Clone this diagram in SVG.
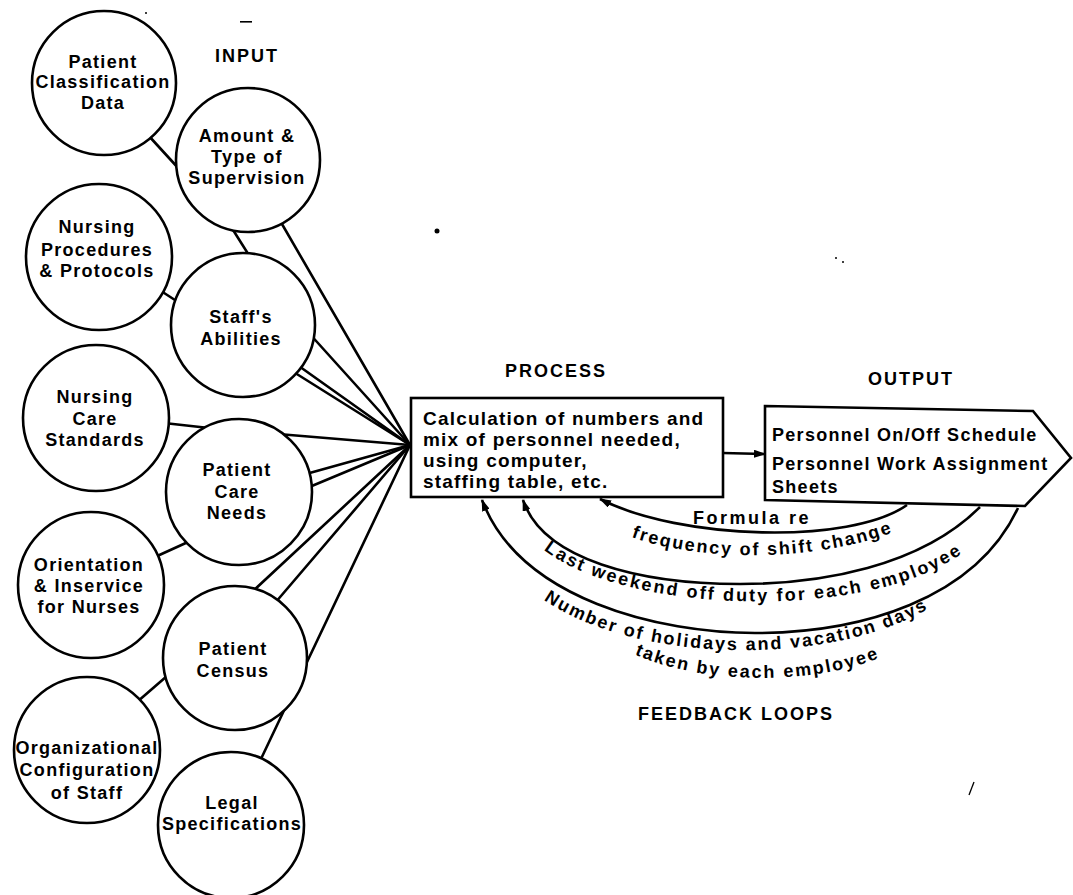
<svg xmlns="http://www.w3.org/2000/svg" width="1073" height="895" viewBox="0 0 1073 895">
<defs>
<style>
.node circle{fill:#fff;stroke:#000;stroke-width:2.6}
.node rect,.node polygon{fill:#fff;stroke:#000;stroke-width:2.6}
text{font-family:"Liberation Sans",Arial,sans-serif;font-weight:bold;fill:#000}
.ct{font-size:18px;letter-spacing:1.3px;text-anchor:middle}
.hd{font-size:18px;letter-spacing:2px}
.bx{font-size:19px;letter-spacing:1.2px}
.ot{font-size:18px;letter-spacing:1.3px}
.fb{font-size:18px;letter-spacing:2px}
.ln{stroke:#000;stroke-width:2.6;fill:none;stroke-linecap:round}
.arc{stroke:#000;stroke-width:2.6;fill:none;marker-end:url(#ah)}
.mk{fill:#000}
</style>
<marker id="ah" markerUnits="userSpaceOnUse" markerWidth="12" markerHeight="8" refX="11" refY="4" orient="auto"><path d="M0,0 L12,4 L0,8 z"/></marker>
<path id="tp1" d="M590,516 C660,569 850,569 935,511"/>
<path id="tp2" d="M520,520 C560,620 920,635 990,525"/>
<path id="tp3" d="M500,550 C560,680 900,680 970,570"/>
<path id="tp4" d="M588,621 C648,696 868,696 928,626"/>
</defs>
<rect width="1073" height="895" fill="#fff"/>

<g id="connectors">
<line class="ln" x1="148" y1="135" x2="180" y2="170"/>
<line class="ln" x1="228" y1="222" x2="252" y2="260"/>
<line class="ln" x1="158" y1="289" x2="178" y2="302"/>
<line class="ln" x1="164" y1="423" x2="209" y2="428"/>
<line class="ln" x1="155" y1="557" x2="188" y2="542"/>
<line class="ln" x1="167" y1="676" x2="137" y2="702"/>
<line class="ln" x1="260" y1="761" x2="410" y2="445"/>
<line class="ln" x1="275" y1="212" x2="410" y2="445"/>
<line class="ln" x1="308" y1="332" x2="410" y2="445"/>
<line class="ln" x1="296" y1="364" x2="410" y2="445"/>
<line class="ln" x1="292" y1="371" x2="410" y2="445"/>
<line class="ln" x1="278" y1="434" x2="410" y2="445"/>
<line class="ln" x1="306" y1="474" x2="410" y2="445"/>
<line class="ln" x1="307" y1="488" x2="410" y2="445"/>
<line class="ln" x1="252" y1="592" x2="410" y2="445"/>
<line class="ln" x1="275" y1="603" x2="410" y2="445"/>
<path class="ln" d="M723,453 L765,454" marker-end="url(#ah)"/>
<path class="arc" d="M907,505 C850,545 680,540 600,499"/>
<path class="arc" d="M980,507 C920,567 820,584 740,584 C640,584 543,560 523,500"/>
<path class="arc" d="M1018,508 C975,600 860,633 755,633 C660,633 520,600 482,500"/>
</g>

<g id="n-patient-classification" class="node">
<circle cx="104" cy="83" r="72"/>
<text class="ct"><tspan x="103" y="68">Patient</tspan><tspan x="103" y="88">Classification</tspan><tspan x="103" y="109">Data</tspan></text>
</g>
<g id="n-amount-supervision" class="node">
<circle cx="248" cy="160" r="72"/>
<text class="ct"><tspan x="247" y="142">Amount &amp;</tspan><tspan x="247" y="163">Type of</tspan><tspan x="247" y="184">Supervision</tspan></text>
</g>
<g id="n-nursing-procedures" class="node">
<circle cx="99" cy="257" r="73"/>
<text class="ct"><tspan x="97" y="233">Nursing</tspan><tspan x="97" y="256">Procedures</tspan><tspan x="97" y="277">&amp; Protocols</tspan></text>
</g>
<g id="n-staff-abilities" class="node">
<circle cx="243" cy="325" r="72"/>
<text class="ct"><tspan x="241" y="323">Staff's</tspan><tspan x="241" y="345">Abilities</tspan></text>
</g>
<g id="n-nursing-care-standards" class="node">
<circle cx="96" cy="418" r="73"/>
<text class="ct"><tspan x="95" y="403">Nursing</tspan><tspan x="95" y="425">Care</tspan><tspan x="95" y="446">Standards</tspan></text>
</g>
<g id="n-patient-care-needs" class="node">
<circle cx="239" cy="492" r="73"/>
<text class="ct"><tspan x="237" y="476">Patient</tspan><tspan x="237" y="498">Care</tspan><tspan x="237" y="519">Needs</tspan></text>
</g>
<g id="n-orientation" class="node">
<circle cx="91" cy="585" r="73"/>
<text class="ct"><tspan x="89" y="571">Orientation</tspan><tspan x="89" y="592">&amp; Inservice</tspan><tspan x="89" y="613">for Nurses</tspan></text>
</g>
<g id="n-patient-census" class="node">
<circle cx="235" cy="658" r="72"/>
<text class="ct"><tspan x="233" y="655">Patient</tspan><tspan x="233" y="677">Census</tspan></text>
</g>
<g id="n-organizational" class="node">
<circle cx="87" cy="750" r="73"/>
<text class="ct"><tspan x="87" y="754">Organizational</tspan><tspan x="87" y="776">Configuration</tspan><tspan x="87" y="799">of Staff</tspan></text>
</g>
<g id="n-legal" class="node">
<circle cx="231" cy="825" r="73"/>
<text class="ct"><tspan x="232" y="809">Legal</tspan><tspan x="232" y="830">Specifications</tspan></text>
</g>

<g id="n-process" class="node">
<rect x="411" y="398" width="312" height="99"/>
<text class="bx"><tspan x="423" y="425">Calculation of numbers and</tspan><tspan x="423" y="446">mix of personnel needed,</tspan><tspan x="423" y="467">using computer,</tspan><tspan x="423" y="488">staffing table, etc.</tspan></text>
</g>
<g id="n-output" class="node">
<polygon points="765,406 1033,411 1071,458 1025,506 765,500"/>
<text class="ot"><tspan x="772" y="441">Personnel On/Off Schedule</tspan><tspan x="772" y="470">Personnel Work Assignment</tspan><tspan x="772" y="493">Sheets</tspan></text>
</g>

<g id="labels">
<text class="hd" x="215" y="62">INPUT</text>
<text class="hd" x="505" y="377">PROCESS</text>
<text class="hd" x="868" y="385">OUTPUT</text>
<text class="hd" x="638" y="720">FEEDBACK LOOPS</text>
<text class="fb" style="letter-spacing:2.5px" x="752" y="524" text-anchor="middle">Formula re</text>
<text class="fb" style="letter-spacing:1.9px" text-anchor="middle"><textPath href="#tp1" startOffset="50%">frequency of shift change</textPath></text>
<text class="fb" style="letter-spacing:2.2px" text-anchor="middle"><textPath href="#tp2" startOffset="50%">Last weekend off duty for each employee</textPath></text>
<text class="fb" style="letter-spacing:2px" text-anchor="middle"><textPath href="#tp3" startOffset="51%">Number of holidays and vacation days</textPath></text>
<text class="fb" style="letter-spacing:2px" text-anchor="middle"><textPath href="#tp4" startOffset="50%">taken by each employee</textPath></text>
</g>

<g id="marks">
<circle class="mk" cx="437" cy="231" r="2.5"/>
<rect class="mk" x="240" y="21" width="12" height="1.6"/>
<circle class="mk" cx="146" cy="13" r="1"/>
<circle class="mk" cx="836" cy="258" r="1"/>
<circle class="mk" cx="843" cy="262" r="1"/>
<line x1="969" y1="795" x2="974" y2="782" stroke="#000" stroke-width="1.3"/>
</g>
</svg>
